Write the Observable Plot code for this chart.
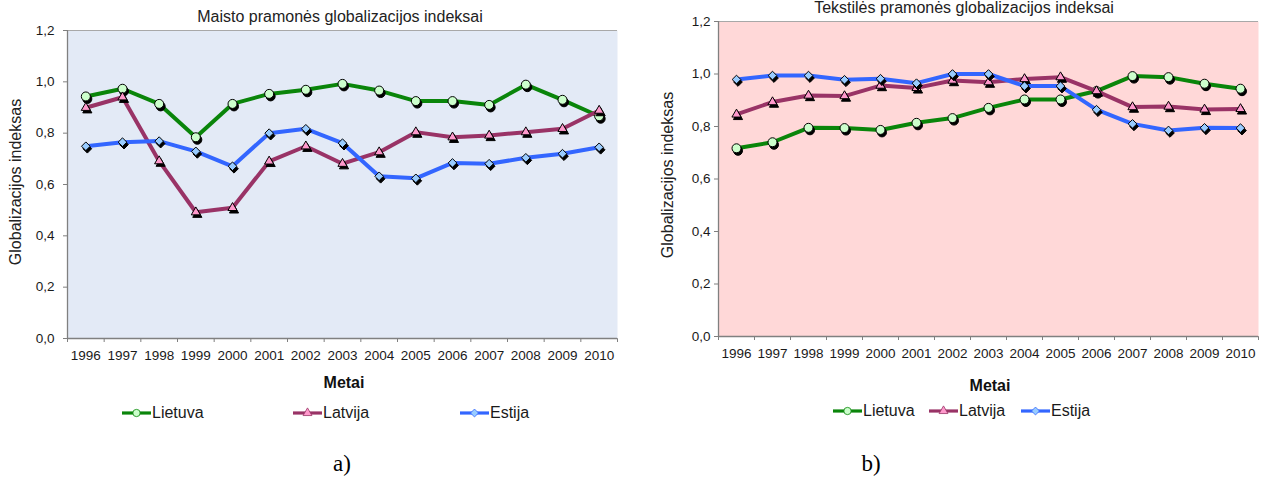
<!DOCTYPE html>
<html>
<head>
<meta charset="utf-8">
<script src="https://cdn.jsdelivr.net/npm/d3@7"></script>
<script src="https://cdn.jsdelivr.net/npm/@observablehq/plot@0.6"></script>
<style>
  body { margin: 0; background: #fff; font-family: "Liberation Sans", Arial, sans-serif; }
  #root { position: relative; width: 1266px; height: 477px; overflow: hidden; background: #fff; }
  .abs { position: absolute; white-space: nowrap; line-height: 1.15; color: #1a1a1a; }
  .c { transform: translate(-50%, -50%); }
  .rot { transform: translate(-50%, -50%) rotate(-90deg); }
  .title { font-size: 16px; color: #222; }
  .ytitle { font-size: 16px; color: #222; }
  .xtitle { font-size: 16px; font-weight: bold; color: #111; }
  .cap { font-family: "Liberation Serif", "Times New Roman", serif; font-size: 23px; color: #000; }
  .leg { position: absolute; display: flex; align-items: center; height: 20px; font-size: 16px; color: #1a1a1a; }
  .leg svg { display: block; margin-right: 1px; }
</style>
</head>
<body>
<div id="root"></div>
<script>
// ---- data ----
const years = [1996, 1997, 1998, 1999, 2000, 2001, 2002, 2003, 2004, 2005, 2006, 2007, 2008, 2009, 2010];
const countries = ["Lietuva", "Latvija", "Estija"];
const yTicks = [0, 0.2, 0.4, 0.6, 0.8, 1.0, 1.2];

// a) Maisto pramonė
const maistoLietuva = [0.943, 0.973, 0.914, 0.784, 0.914, 0.953, 0.969, 0.992, 0.966, 0.925, 0.925, 0.910, 0.989, 0.930, 0.866];
const maistoLatvija = [0.899, 0.940, 0.691, 0.492, 0.509, 0.690, 0.749, 0.681, 0.726, 0.804, 0.784, 0.791, 0.804, 0.817, 0.888];
const maistoEstija  = [0.749, 0.765, 0.769, 0.729, 0.671, 0.800, 0.817, 0.761, 0.632, 0.624, 0.684, 0.681, 0.704, 0.720, 0.745];

// b) Tekstilės pramonė
const tekstLietuva = [0.717, 0.740, 0.795, 0.794, 0.787, 0.814, 0.832, 0.871, 0.903, 0.903, 0.935, 0.992, 0.988, 0.963, 0.944];
const tekstLatvija = [0.846, 0.893, 0.918, 0.916, 0.956, 0.947, 0.975, 0.969, 0.981, 0.988, 0.935, 0.874, 0.876, 0.865, 0.867];
const tekstEstija  = [0.979, 0.994, 0.994, 0.978, 0.982, 0.965, 1.000, 1.000, 0.954, 0.954, 0.864, 0.810, 0.785, 0.795, 0.794];

// ---- styles ----
const seriesStyle = [
  {line: "#0a850a", fill: "#ccffcc", symbol: "circle",   r: 4.5, legSym: d3.symbolCircle,   legSize: 42},
  {line: "#993366", fill: "#ff99cc", symbol: "triangle", r: 3.4, legSym: d3.symbolTriangle, legSize: 34},
  {line: "#3366ff", fill: "#99ccff", symbol: "diamond2", r: 3.9, legSym: d3.symbolDiamond2, legSize: 40}
];

const bounds = years.map(y => y - 0.5).concat([years[years.length - 1] + 0.5]);
const root = document.getElementById("root");

function makeChart(cfg) {
  const marks = [
    Plot.frame({fill: cfg.bg, stroke: null}),
    Plot.ruleY([yTicks[yTicks.length - 1]], {stroke: "#a8a8a8", strokeWidth: 1.2}),
    Plot.ruleY([0], {stroke: "#808080", strokeWidth: 1.3}),
    Plot.ruleX([bounds[0]], {stroke: "#808080", strokeWidth: 1.3})
  ];
  seriesStyle.forEach((s, i) => {
    const rows = years.map((yr, j) => ({year: yr, value: cfg.values[i][j], country: countries[i]}));
    marks.push(Plot.line(rows, {x: "year", y: "value", stroke: s.line, strokeWidth: 4, strokeLinejoin: "round"}));
    marks.push(Plot.dot(rows, {x: "year", y: "value", symbol: s.symbol, r: s.r, fill: "#000", stroke: "#000", strokeWidth: 1, dx: 1.5, dy: 2.5}));
    marks.push(Plot.dot(rows, {x: "year", y: "value", symbol: s.symbol, r: s.r, fill: s.fill, stroke: "#000", strokeWidth: 1}));
  });
  marks.push(Plot.text(years, {x: d => d, text: d => String(d), frameAnchor: "bottom", dy: cfg.yearDy, fontSize: 13.5, fill: "#1a1a1a"}));

  const svg = Plot.plot({
    width: cfg.width,
    height: cfg.height,
    marginLeft: cfg.mL, marginRight: cfg.mR, marginTop: cfg.mT, marginBottom: cfg.mB,
    style: {fontFamily: "'Liberation Sans', Arial, sans-serif", fontSize: "13.5px", color: "#1a1a1a", background: "transparent", overflow: "visible"},
    x: {domain: [bounds[0], bounds[bounds.length - 1]], ticks: bounds, tickSize: 4, tickFormat: () => "", label: null},
    y: {domain: [0, yTicks[yTicks.length - 1]], ticks: yTicks, tickSize: 4, tickPadding: cfg.yPad, tickFormat: d => d.toFixed(1).replace(".", ","), label: null},
    marks
  });
  svg.style.position = "absolute";
  svg.style.left = cfg.left + "px";
  svg.style.top = cfg.top + "px";
  svg.style.maxWidth = "none";
  d3.select(svg).selectAll('[aria-label="x-axis tick"], [aria-label="y-axis tick"]').attr("stroke", "#7f7f7f");
  d3.select(svg).selectAll('[aria-label="x-axis"] line, [aria-label="y-axis"] line').attr("stroke", "#7f7f7f");
  root.appendChild(svg);

  const addText = (cls, txt, x, y) => {
    const d = document.createElement("div");
    d.className = "abs " + cls;
    d.textContent = txt;
    d.style.left = x + "px";
    d.style.top = y + "px";
    root.appendChild(d);
  };
  addText("c title", cfg.title, cfg.titleX, cfg.titleY);
  addText("rot ytitle", "Globalizacijos indeksas", cfg.yTitleX, cfg.yTitleY);
  addText("c xtitle", "Metai", cfg.xTitleX, cfg.xTitleY);
  addText("c cap", cfg.cap, cfg.capX, cfg.capY);

  cfg.legX.forEach((lx, i) => {
    const s = seriesStyle[i];
    const item = document.createElement("div");
    item.className = "leg";
    item.style.left = lx + "px";
    item.style.top = (cfg.legY - 10) + "px";
    const lsvg = d3.create("svg").attr("width", 29).attr("height", 14);
    lsvg.append("line").attr("x1", 0).attr("x2", 29).attr("y1", 7).attr("y2", 7)
      .attr("stroke", s.line).attr("stroke-width", 3.2);
    lsvg.append("path").attr("d", d3.symbol().type(s.legSym).size(s.legSize)())
      .attr("transform", "translate(14.5,7)").attr("fill", s.fill).attr("stroke", s.line).attr("stroke-width", 0.8);
    item.appendChild(lsvg.node());
    const sp = document.createElement("span");
    sp.textContent = countries[i];
    item.appendChild(sp);
    root.appendChild(item);
  });
}

makeChart({
  left: 0, top: 0, width: 640, height: 380,
  mL: 67, mR: 23, mT: 30, mB: 42,
  bg: "#e3eaf6", yPad: 9, yearDy: 21,
  values: [maistoLietuva, maistoLatvija, maistoEstija],
  title: "Maisto pramonės globalizacijos indeksai", titleX: 340, titleY: 17,
  yTitleX: 16, yTitleY: 182,
  xTitleX: 344, xTitleY: 383,
  legX: [122, 293, 460], legY: 413,
  cap: "a)", capX: 342, capY: 464
});

makeChart({
  left: 640, top: 0, width: 626, height: 380,
  mL: 78, mR: 8, mT: 21, mB: 44,
  bg: "#ffd8d8", yPad: 4, yearDy: 21,
  values: [tekstLietuva, tekstLatvija, tekstEstija],
  title: "Tekstilės pramonės globalizacijos indeksai", titleX: 964, titleY: 8,
  yTitleX: 668, yTitleY: 175,
  xTitleX: 990, xTitleY: 386,
  legX: [833, 929, 1021], legY: 411,
  cap: "b)", capX: 871, capY: 464
});
</script>
</body>
</html>
